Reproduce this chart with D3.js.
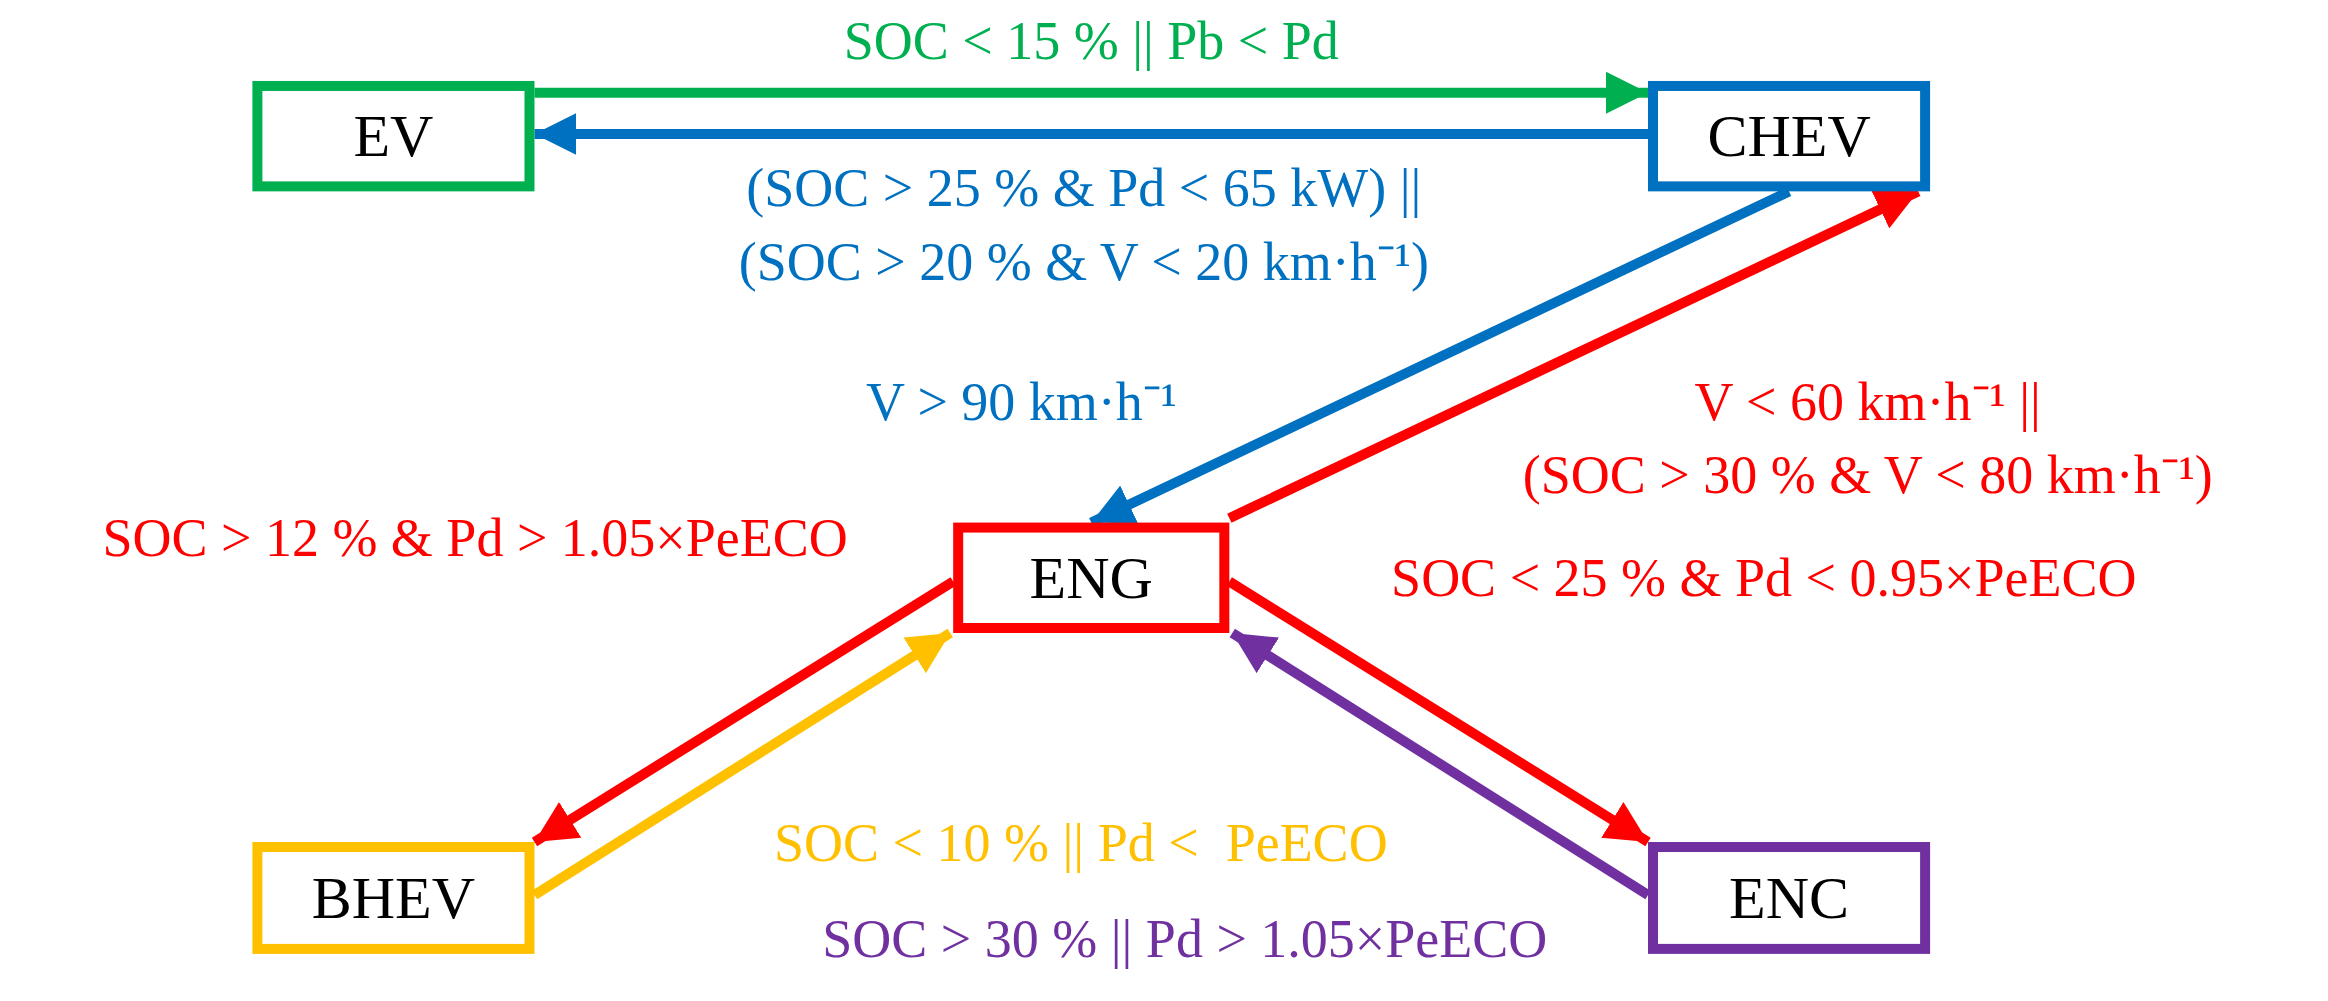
<!DOCTYPE html>
<html><head><meta charset="utf-8">
<script src="https://cdn.jsdelivr.net/npm/d3@7"></script>
<style>body{margin:0;background:#fff}svg{display:block}</style>
</head><body>
<script>
const W = 2328, H = 1001

// node boxes in reference units (1568 x 680 layout)
const nodeNames = ['EV', 'CHEV', 'ENG', 'BHEV', 'ENC']
const nodeBoxes = [[170, 55, 360, 130], [1110, 55, 1300, 130], [642, 355, 828, 430], [170, 572, 360, 648], [1110, 572, 1300, 648]]
const nodeColors = ['#00b050', '#0070c0', '#ff0000', '#ffc000', '#7030a0']

// transitions: from point -> to point
const edges = [
  { c: '#00b050', p: [[360, 63], [1110, 63]] },
  { c: '#0070c0', p: [[1110, 91], [360, 91]] },
  { c: '#0070c0', p: [[1205, 130], [735, 355]] },
  { c: '#ff0000', p: [[828, 352], [1292, 130]] },
  { c: '#ff0000', p: [[642, 395], [360, 572]] },
  { c: '#ffc000', p: [[360, 608], [640, 430]] },
  { c: '#ff0000', p: [[828, 395], [1110, 572]] },
  { c: '#7030a0', p: [[1110, 608], [830, 430]] }
]

const labelTexts = [
  'SOC < 15 % || Pb < Pd',
  '(SOC > 25 % & Pd < 65 kW) ||',
  '(SOC > 20 % & V < 20 km·h⁻¹)',
  'V > 90 km·h⁻¹',
  'V < 60 km·h⁻¹ ||',
  '(SOC > 30 % & V < 80 km·h⁻¹)',
  'SOC > 12 % & Pd > 1.05×PeECO',
  'SOC < 25 % & Pd < 0.95×PeECO',
  'SOC < 10 % || Pd <  PeECO',
  'SOC > 30 % || Pd > 1.05×PeECO'
]
const labelPos = [[735, 40], [730, 140], [730, 190], [688, 285], [1258, 285], [1258, 335], [320, 378], [1188, 405], [728, 585], [798, 650]]
const labelColors = ['#00b050', '#0070c0', '#0070c0', '#0070c0', '#ff0000', '#ff0000', '#ff0000', '#ff0000', '#ffc000', '#7030a0']

const x = d3.scaleLinear().domain([0, 1568]).range([0, W])
const y = d3.scaleLinear().domain([0, 680]).range([0, H])

const svg = d3.select('body').append('svg').attr('width', W).attr('height', H)
const defs = svg.append('defs')
const uniq = [...new Set(edges.map(e => e.c))]
uniq.forEach(c => {
  defs.append('marker').attr('id', 'm' + c.slice(1))
    .attr('viewBox', '0 0 10 10').attr('refX', 10).attr('refY', 5)
    .attr('markerWidth', 4.2).attr('markerHeight', 4.2).attr('markerUnits', 'strokeWidth')
    .attr('orient', 'auto')
    .append('path').attr('d', 'M0,0L10,5L0,10z').attr('fill', c)
})

svg.selectAll('line.edge').data(edges).join('line').attr('class', 'edge')
  .attr('x1', d => x(d.p[0][0])).attr('y1', d => y(d.p[0][1]))
  .attr('x2', d => x(d.p[1][0])).attr('y2', d => y(d.p[1][1]))
  .attr('stroke', d => d.c).attr('stroke-width', 10)
  .attr('marker-end', d => `url(#m${d.c.slice(1)})`)

const g = svg.selectAll('g.node').data(nodeNames).join('g').attr('class', 'node')
g.append('rect')
  .attr('x', (d, i) => x(nodeBoxes[i][0]) + 5).attr('y', (d, i) => y(nodeBoxes[i][1]) + 5)
  .attr('width', (d, i) => x(nodeBoxes[i][2]) - x(nodeBoxes[i][0]) - 10)
  .attr('height', (d, i) => y(nodeBoxes[i][3]) - y(nodeBoxes[i][1]) - 10)
  .attr('fill', '#fff').attr('stroke', (d, i) => nodeColors[i]).attr('stroke-width', 10)
g.append('text')
  .attr('x', (d, i) => x((nodeBoxes[i][0] + nodeBoxes[i][2]) / 2))
  .attr('y', (d, i) => y((nodeBoxes[i][1] + nodeBoxes[i][3]) / 2) + 20)
  .attr('text-anchor', 'middle').attr('font-family', 'Liberation Serif')
  .attr('font-size', 60).text(d => d)

svg.selectAll('text.lbl').data(labelTexts).join('text').attr('class', 'lbl')
  .attr('x', (d, i) => x(labelPos[i][0])).attr('y', (d, i) => y(labelPos[i][1]))
  .attr('text-anchor', 'middle').attr('font-family', 'Liberation Serif')
  .attr('font-size', 54).attr('fill', (d, i) => labelColors[i])
  .style('white-space', 'pre').text(d => d)
</script>
</body></html>
